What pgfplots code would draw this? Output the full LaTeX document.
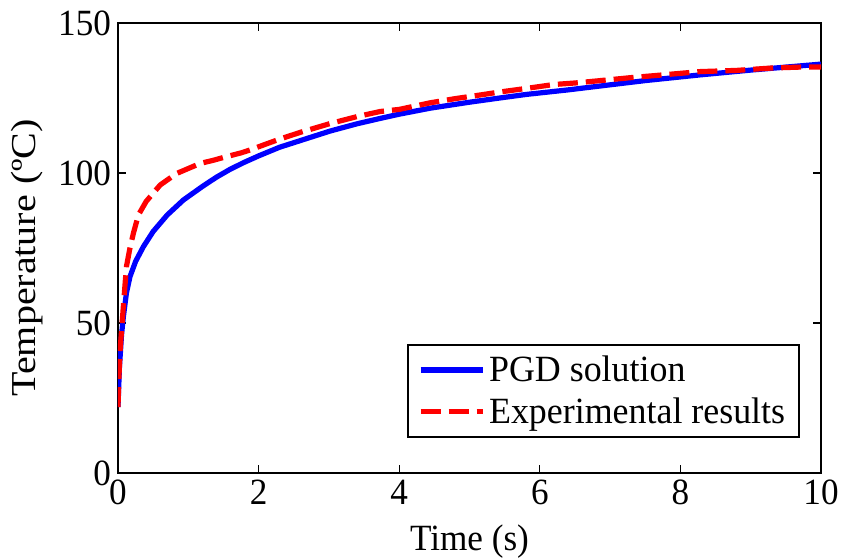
\documentclass[border=0pt]{standalone}
\usepackage{fontspec}
\setmainfont{Liberation Serif}[FakeStretch=0.95]
\newfontfamily\ylabfont{Liberation Serif}[FakeStretch=1.143]
\newfontfamily\legfont{Liberation Serif}[FakeStretch=0.97]
\usepackage{pgfplots}
\pgfplotsset{compat=1.18}

% PGD solution
\pgfplotstableread{
t T
0 22
0.02 35
0.05 46
0.076 52
0.12 60
0.17 65.4
0.25 70.5
0.36 75.4
0.5 80.5
0.7 86
0.93 91
1.2 95.5
1.4 98.6
1.6 101.3
1.8 103.6
2.0 105.7
2.3 108.6
2.7 111.6
3.02 114
3.4 116.4
3.73 118.2
4.0 119.6
4.44 121.6
5.0 123.6
5.43 125
5.81 126.2
6.4 127.7
6.86 129
7.5 130.8
8.28 132.7
9.0 134.3
9.5 135.3
10 136.3
}\pgdtable

% experimental results
\pgfplotstableread{
t T
0 22
0.01 30
0.03 41
0.076 55.5
0.12 68.8
0.17 75
0.22 80
0.29 86
0.4 90.5
0.6 96
0.83 99.8
1.0 101.5
1.17 103.2
1.35 104.2
1.55 105.5
1.75 106.7
1.88 107.7
2.1 109.6
2.3 111.3
2.6 113.6
3.02 116.5
3.4 118.8
3.73 120.5
4.0 121.2
4.44 123.4
4.8 124.8
5.15 126
5.43 127
5.81 128.2
6.2 129.5
6.5 130
6.86 130.8
7.3 131.8
7.7 132.6
8.28 133.8
8.8 134.2
9.3 135
9.7 135.3
10 135.3
}\exptable

\begin{document}
\begin{tikzpicture}
\useasboundingbox (-59pt,-42.5pt) rectangle (361.5pt,236.5pt);
\begin{axis}[
  at={(0,0)}, anchor=south west, scale only axis,
  width=351.5pt, height=225pt,
  xmin=0, xmax=10, ymin=0, ymax=150,
  xtick={0,2,4,6,8,10}, ytick={0,50,100,150},
  tick align=inside, xtick pos=both, ytick pos=both,
  major tick length=4pt,
  axis line style={line width=0.8pt},
  every tick/.style={black, line width=0.6pt},
  /pgf/number format/assume math mode=true,
  tick label style={font=\fontsize{18.5}{22}\selectfont},
  xlabel={Time (s)},
  ylabel={Temperature (ºC)},
  xlabel style={font=\fontsize{18.5}{22}\selectfont, at={(axis description cs:0.5,-0.173)}, anchor=base},
  ylabel style={font=\ylabfont\fontsize{17.5}{20}\selectfont, at={(axis description cs:-0.1294,0.478)}, anchor=center},
  legend style={at={(0.970,0.078)}, anchor=south east, draw=black, line width=0.8pt,
    font=\legfont\fontsize{18.5}{22}\selectfont, inner xsep=5pt, inner ysep=3.5pt, row sep=2.5pt},
  legend cell align=left,
  legend image code/.code={\draw[#1] (0pt,0pt) -- (31pt,0pt);},
]
\addplot[blue, line width=2.6pt] table[x=t, y=T] {\pgdtable};
\addlegendentry{PGD solution}
\addplot[red, line width=2.6pt, dash pattern=on 10pt off 4pt] table[x=t, y=T] {\exptable};
\addlegendentry{Experimental results}
\end{axis}
\end{tikzpicture}
\end{document}
